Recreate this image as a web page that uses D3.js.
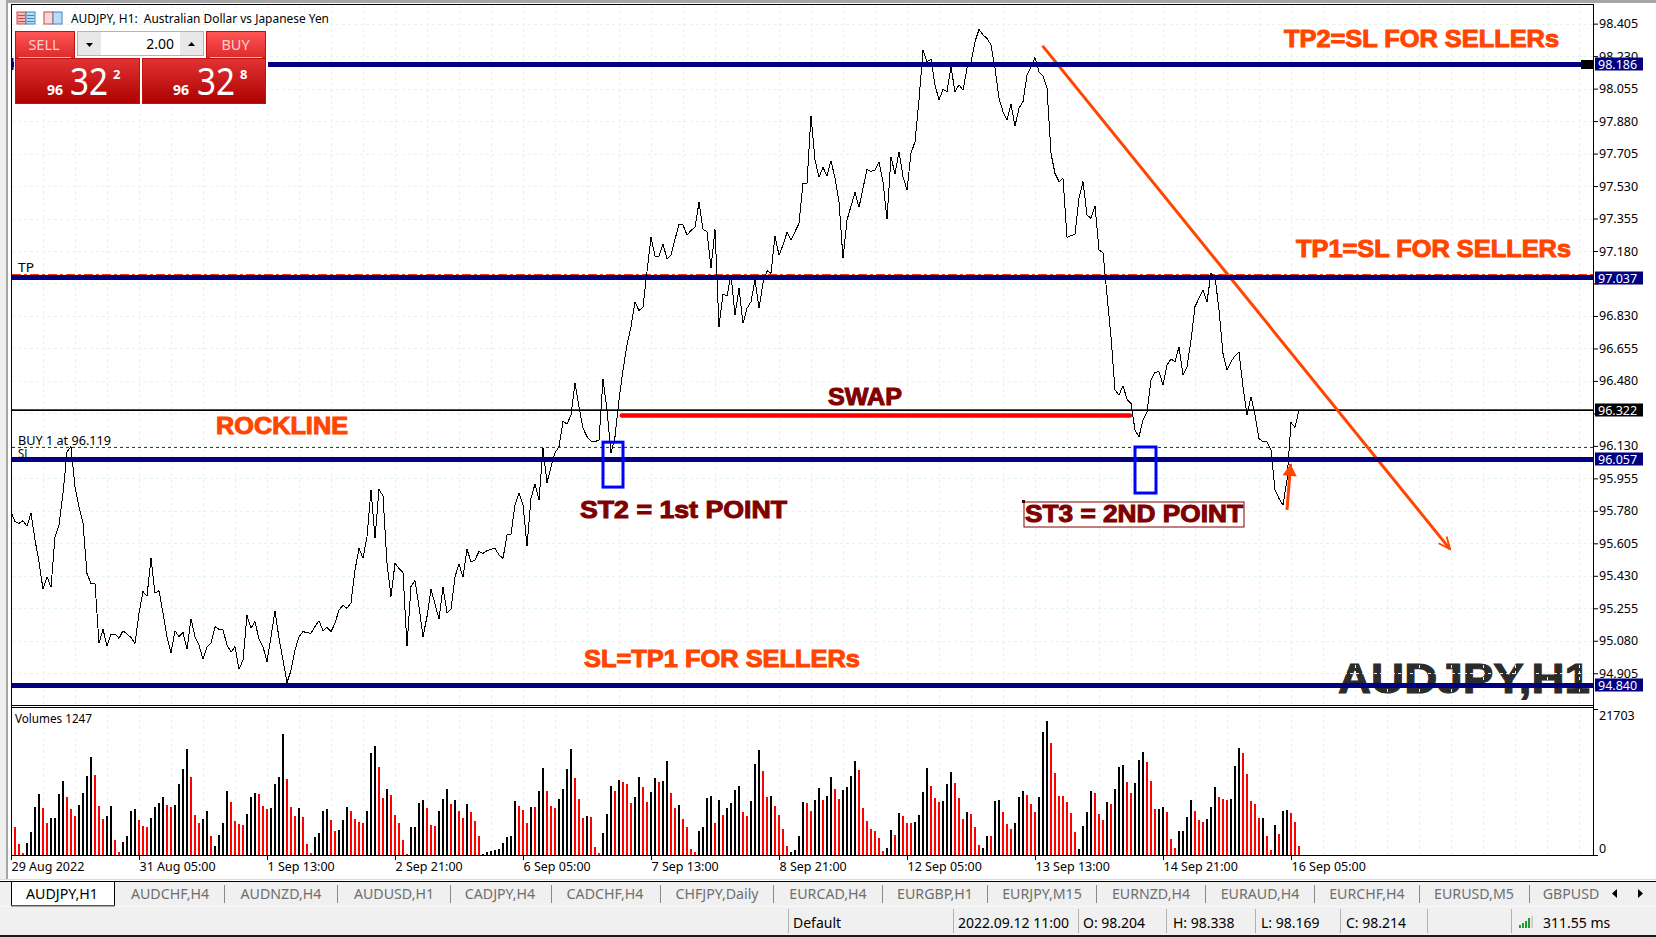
<!DOCTYPE html>
<html lang="en">
<head>
<meta charset="UTF-8" />
<title>AUDJPY,H1</title>
<script src="https://d3js.org/d3.v7.min.js"></script>
<style>
  html, body { margin: 0; padding: 0; background: #fff; overflow: hidden; }
  svg { display: block; }
  text { font-family: "Noto Sans", sans-serif; }
  .axis text { font-size: 12.5px; fill: #000; }
  .axis line { stroke: #000; }
  .axis path { display: none; }
  .mark { font-family: "Liberation Sans", Arial, sans-serif; font-weight: bold; }
</style>
</head>
<body>
<svg id="chart" width="1656" height="937"></svg>
<script>
// close of every H1 bar
const closes = [
  95.774,95.722,95.713,95.727,95.698,95.767,95.623,95.506,95.357,95.425,95.368,95.641,95.704,95.874,96.097,96.126,
  95.910,95.803,95.713,95.443,95.389,95.389,95.066,95.142,95.052,95.116,95.116,95.093,95.134,95.116,95.098,95.066,
  95.228,95.345,95.321,95.524,95.336,95.350,95.228,95.102,95.016,95.134,95.102,95.125,95.034,95.199,95.102,95.057,
  94.980,95.048,95.066,95.156,95.142,95.138,95.057,95.019,95.048,94.926,94.976,95.217,95.147,95.183,95.088,95.048,
  94.967,95.102,95.242,95.093,94.976,94.854,94.920,95.030,95.102,95.129,95.124,95.120,95.156,95.188,95.134,95.152,
  95.129,95.174,95.246,95.271,95.255,95.285,95.461,95.578,95.524,95.641,95.892,95.632,95.896,95.860,95.497,95.318,
  95.497,95.470,95.447,95.052,95.372,95.404,95.264,95.102,95.210,95.357,95.278,95.196,95.368,95.231,95.249,95.425,
  95.494,95.422,95.573,95.506,95.515,95.562,95.551,95.565,95.573,95.578,95.542,95.524,95.650,95.655,95.812,95.874,
  95.812,95.592,95.847,95.925,95.838,96.117,95.932,96.018,96.093,96.126,96.261,96.248,96.296,96.467,96.341,96.225,
  96.180,96.155,96.153,96.162,96.489,96.323,96.090,96.180,96.377,96.539,96.674,96.772,96.907,96.859,96.877,97.069,
  97.254,97.153,97.153,97.216,97.139,97.157,97.243,97.324,97.320,97.266,97.290,97.308,97.442,97.297,97.284,97.087,
  97.297,96.772,96.948,96.938,97.051,96.835,96.979,96.790,96.871,96.907,97.024,96.871,97.006,97.074,97.060,97.261,
  97.157,97.212,97.281,97.239,97.284,97.329,97.545,97.545,97.909,97.670,97.577,97.631,97.584,97.667,97.572,97.446,
  97.140,97.347,97.422,97.496,97.415,97.518,97.620,97.608,97.617,97.658,97.554,97.351,97.688,97.595,97.715,97.581,
  97.509,97.706,97.769,97.994,98.263,98.200,98.213,98.075,97.994,98.051,98.039,98.170,98.039,98.075,98.047,98.164,
  98.200,98.308,98.374,98.344,98.326,98.290,98.164,98.003,97.931,97.886,97.970,97.854,97.949,97.985,98.128,98.173,
  98.222,98.146,98.123,98.057,97.706,97.598,97.554,97.571,97.254,97.263,97.270,97.464,97.554,97.374,97.356,97.422,
  97.185,97.171,96.943,96.718,96.431,96.404,96.454,96.381,96.359,96.215,96.179,96.269,96.314,96.485,96.526,96.530,
  96.458,96.565,96.598,96.583,96.664,96.512,96.557,96.700,96.880,96.925,96.970,96.907,97.059,97.041,96.862,96.628,
  96.539,96.583,96.616,96.634,96.449,96.296,96.395,96.296,96.170,96.152,96.152,96.108,95.892,95.847,95.811,95.946,
  96.255,96.230,96.322
];

// tick volume of every bar, negative when the bar is drawn in the down colour
const volumes = [
  0,-4176,-1635,-350,1783,3434,7146,9077,-7000,-4770,5513,5513,9077,11007,-8631,-6849,-5810,7443,9225,11750,14571,
  -11898,-7295,-5364,5810,7295,-2229,-446,1932,2840,6552,6849,-5216,-4325,-4176,5513,7146,7740,8631,-7443,-7146,
  7443,10562,12790,15760,-11601,-5958,-4770,5364,6552,-2840,1337,2987,4770,9522,-7889,-5067,-4622,-4473,6107,8631,
  9225,-9077,-7295,-6849,7000,10562,11601,17987,-11304,-7146,-5810,7000,-5661,-1635,-300,2691,3285,6552,6849,-5216,
  -3582,3731,5216,7146,-6552,-5364,-4918,-4770,6552,15165,16205,-13086,-8483,9819,-8928,-5958,-4770,-2229,-150,
  4176,4176,7691,8186,-7000,-4473,-4325,6552,8335,9819,-7592,8186,-6552,-5513,7592,-6404,-5067,-2840,150,446,594,
  743,892,1783,2691,2840,8037,-7295,-6701,-4770,7146,-7146,9522,12938,-9522,-7295,-7000,8335,9819,12790,15760,
  -11453,-8335,-5513,5810,-5661,-1189,-300,3285,6107,10265,-9522,11156,-10859,-10562,-7740,8631,11601,-10116,-7889,
  9374,11453,-10859,11007,13978,-9225,-7000,7443,-5364,-4176,-892,-446,3582,4176,8483,8780,-4770,8186,-5958,7000,
  7740,9671,10265,-6404,-5810,8037,13532,15611,-12492,-8631,8780,-7295,-5958,-3879,-1337,446,743,2840,7889,-7740,
  -6552,8186,9968,-8186,8780,11601,-9819,-8335,9671,10116,11750,13978,-12641,-7000,-5067,-3879,-3582,-2543,-600,
  1000,3731,-2987,6256,-5810,-4770,-4770,4918,5958,9374,12938,-10265,-8483,-7889,8037,10562,12344,-10710,-8483,
  -5364,6404,-6107,-4176,-1500,1000,2840,-2840,8037,8186,-6404,-4622,-3879,4770,8631,9522,-8928,-7592,-6404,8631,
  18284,19917,-16650,-12196,-8780,-8780,-7889,-6256,-3434,900,4325,6404,9522,-9225,-6107,-5216,7889,-7592,9819,
  13086,13384,-10859,-9225,10710,14126,15314,-13829,-11007,-6849,6849,7146,-6404,-2396,-1000,3582,3582,5661,8186,
  -6552,-5216,-4918,5364,7146,10116,-8631,-8335,-8186,8335,13235,15908,-15165,-12047,-8037,-7592,-5513,5545,-2873,
  -793,4507,-3170,6588,6736,-6290,-4953,-1387
];

const priceTicks = [98.405,98.230,98.055,97.880,97.705,97.530,97.355,97.180,97.005,96.830,96.655,96.480,96.305,96.130,95.955,95.780,95.605,95.430,95.255,95.080,94.905];
const hiddenPriceLabels = [97.005, 96.305];
const timeTicks = [0,32,64,96,128,160,192,224,256,288,320];
const timeLabels = ["29 Aug 2022","31 Aug 05:00","1 Sep 13:00","2 Sep 21:00","6 Sep 05:00","7 Sep 13:00","8 Sep 21:00","12 Sep 05:00","13 Sep 13:00","14 Sep 21:00","16 Sep 05:00"];
const volumeTicks = [0, 21703];
const levels = [98.186, 97.037, 96.057, 94.840];
const bid = 96.322, ask = 96.328, buyPrice = 96.119, tpPrice = 97.052;

const tabNames = ["AUDCHF,H4","AUDNZD,H4","AUDUSD,H1","CADJPY,H4","CADCHF,H4","CHFJPY,Daily","EURCAD,H4","EURGBP,H1","EURJPY,M15","EURNZD,H4","EURAUD,H4","EURCHF,H4","EURUSD,M5","GBPUSD"];
const tabCentres = [170,281,394,500,605,717,828,935,1042,1151,1260,1367,1474,1571];
const tabSeps = [224,337,450,551,660,773,882,987,1096,1205,1314,1419,1529];
const statusSeps = [788,953,1078,1166,1255,1340,1427,1511];

const svg = d3.select("#chart");
const defs = svg.append("defs");

function gradient(id, top, bottom) {
  const g = defs.append("linearGradient").attr("id", id).attr("x1", 0).attr("y1", 0).attr("x2", 0).attr("y2", 1);
  g.append("stop").attr("offset", "0%").attr("stop-color", top);
  g.append("stop").attr("offset", "100%").attr("stop-color", bottom);
}
gradient("btn", "#ff5555", "#dc2a2a");
gradient("quote", "#e23434", "#ad0000");

const x = d3.scaleLinear().domain([0, 320]).range([11, 1291]);
const y = d3.scaleLinear().domain([94.84, 98.186]).range([685.3, 64.3]);
const v = d3.scaleLinear().domain([0, 21703]).range([855, 709]);
const right = 1593;

function text(g, str, tx, ty, size, opts = {}) {
  const t = g.append("text").attr("x", tx).attr("y", ty).attr("font-size", size)
    .attr("fill", opts.fill || "#000").text(str);
  if (opts.anchor) t.attr("text-anchor", opts.anchor);
  if (opts.cls) t.attr("class", opts.cls);
  if (opts.weight) t.attr("font-weight", opts.weight);
  if (opts.len) t.attr("textLength", opts.len).attr("lengthAdjust", "spacingAndGlyphs");
  return t;
}

// window edges
svg.append("rect").attr("x", 0).attr("y", 0).attr("width", 1656).attr("height", 3).attr("fill", "#a6a6a6");
svg.append("rect").attr("x", 0).attr("y", 0).attr("width", 6).attr("height", 880).attr("fill", "#efefef");
svg.append("rect").attr("x", 6).attr("y", 0).attr("width", 2).attr("height", 880).attr("fill", "#a6a6a6");

// chart watermark sits under the grid
const marks = svg.append("g");
text(marks, "AUDJPY,H1", 1338, 693, 42, { cls: "mark", fill: "#2b2b2b", len: 252 })
  .attr("stroke", "#2b2b2b").attr("stroke-width", 1);

// grid
const grid = svg.append("g").attr("stroke", "#e6f6e6").attr("stroke-dasharray", "3,3").attr("shape-rendering", "crispEdges");
grid.selectAll(".h").data(priceTicks).join("line").attr("class", "h")
  .attr("x1", 12).attr("x2", right).attr("y1", d => Math.round(y(d)) + 0.5).attr("y2", d => Math.round(y(d)) + 0.5);
grid.selectAll(".v").data(d3.range(8, 400, 8)).join("line").attr("class", "v")
  .attr("x1", d => x(d) + 0.5).attr("x2", d => x(d) + 0.5).attr("y1", 5).attr("y2", 705);
grid.selectAll(".w").data(d3.range(8, 400, 8)).join("line").attr("class", "w")
  .attr("x1", d => x(d) + 0.5).attr("x2", d => x(d) + 0.5).attr("y1", 708).attr("y2", 855);

// bid / ask / order lines
const crisp = svg.append("g").attr("shape-rendering", "crispEdges");
crisp.append("line").attr("x1", 12).attr("x2", right).attr("y1", y(ask)).attr("y2", y(ask)).attr("stroke", "#ff0000");
crisp.append("line").attr("x1", 12).attr("x2", right).attr("y1", y(bid)).attr("y2", y(bid)).attr("stroke", "#000");
crisp.append("line").attr("x1", 12).attr("x2", right).attr("y1", y(buyPrice)).attr("y2", y(buyPrice))
  .attr("stroke", "#006400").attr("stroke-dasharray", "3,3");
crisp.append("line").attr("x1", 12).attr("x2", right).attr("y1", y(tpPrice)).attr("y2", y(tpPrice))
  .attr("stroke", "#ff3000").attr("stroke-width", 2).attr("stroke-dasharray", "9,3,3,3");

// price line
const priceLine = d3.line().x((d, i) => x(i)).y(d => y(d));
svg.append("path").datum(closes).attr("d", priceLine).attr("fill", "none").attr("stroke", "#000")
  .attr("stroke-width", 1).attr("shape-rendering", "crispEdges");

// hand drawn trend line and arrow
const trend = [[257.9, 98.285], [359.75, 95.574]];
const pt = p => [x(p[0]), y(p[1])];
const orange = "#ff4500";
svg.append("path").attr("d", d3.line()(trend.map(pt))).attr("stroke", orange).attr("stroke-width", 3).attr("fill", "none");
function barbs(p0, p1, len, spread) {
  const [a, b] = [pt(p0), pt(p1)];
  const ang = Math.atan2(b[1] - a[1], b[0] - a[0]);
  const at = s => [b[0] - len * Math.cos(ang + s), b[1] - len * Math.sin(ang + s)];
  return [at(spread), b, at(-spread)];
}
svg.append("path").attr("d", d3.line()(barbs(trend[0], trend[1], 13, 0.42))).attr("stroke", orange)
  .attr("stroke-width", 1.8).attr("fill", "none");

// horizontal levels
svg.append("g").selectAll("line").data(levels).join("line")
  .attr("x1", 12).attr("x2", right).attr("y1", d => y(d)).attr("y2", d => y(d))
  .attr("stroke", "#000080").attr("stroke-width", 4.5).attr("shape-rendering", "crispEdges");

// small up arrow at the last swing
const upArrow = [[319, 95.785], [319.9, 96.033]];
svg.append("path").attr("d", d3.line()(upArrow.map(pt))).attr("stroke", orange).attr("stroke-width", 3).attr("fill", "none");
svg.append("path").attr("d", d3.line()(barbs(upArrow[0], upArrow[1], 14, 0.54)) + "Z").attr("fill", orange);

// swap line and boxes
const swap = [[152.7, 96.294], [279.75, 96.294]];
svg.append("path").attr("d", d3.line()(swap.map(pt))).attr("stroke", "#ff0000").attr("stroke-width", 4.4)
  .attr("stroke-linecap", "round").attr("fill", "none");
const boxes = [[148, 153, 96.150, 95.908], [281, 286.25, 96.124, 95.876]];
svg.append("g").selectAll("rect").data(boxes).join("rect")
  .attr("x", d => x(d[0])).attr("width", d => x(d[1]) - x(d[0]))
  .attr("y", d => y(d[2])).attr("height", d => y(d[3]) - y(d[2]))
  .attr("fill", "none").attr("stroke", "#0000ff").attr("stroke-width", 3);

// orange and dark red notes
const notes = svg.append("g");
const note = (s, nx, ny, size, fill, len) => text(notes, s, nx, ny, size, { cls: "mark", fill, len }).attr("stroke", fill).attr("stroke-width", 1);
note("TP2=SL FOR SELLERs", 1284, 47, 24, orange, 275);
note("TP1=SL FOR SELLERs", 1296, 257, 24, orange, 275);
note("ROCKLINE", 216, 434, 24, orange, 132);
note("SL=TP1 FOR SELLERs", 584, 667, 24, orange, 276);
note("SWAP", 828, 405, 24, "#800000", 74);
note("ST2 = 1st POINT", 580, 518, 24, "#800000", 207);
note("ST3 = 2ND POINT", 1025, 522, 24, "#800000", 218);
notes.append("rect").attr("x", 1024).attr("y", 502).attr("width", 220).attr("height", 25)
  .attr("fill", "none").attr("stroke", "#800000");
notes.append("rect").attr("x", 1022).attr("y", 500).attr("width", 3).attr("height", 3).attr("fill", "#400000");

// order labels
const labels = svg.append("g");
text(labels, "TP", 18, 272, 12, { len: 16 });
text(labels, "BUY 1 at 96.119", 18, 445, 12, { len: 93 });
text(labels, "SL", 18, 458, 12, { len: 12 });

// volume bars
svg.append("g").attr("shape-rendering", "crispEdges").selectAll("rect").data(volumes).join("rect")
  .attr("x", (d, i) => x(i) - 1).attr("width", 2)
  .attr("y", d => v(Math.abs(d))).attr("height", d => v(0) - v(Math.abs(d)))
  .attr("fill", d => d < 0 ? "#ff0000" : "#000");
text(labels, "Volumes 1247", 15, 723, 12.5, { len: 77 });

// axes
const priceAxis = d3.axisRight(y).tickValues(priceTicks).tickSize(5).tickPadding(1)
  .tickFormat(d => hiddenPriceLabels.includes(d) ? "" : d.toFixed(3));
svg.append("g").attr("class", "axis").attr("transform", `translate(${right},0)`).call(priceAxis);

const volumeAxis = d3.axisRight(v).tickValues(volumeTicks).tickSize(5).tickPadding(1).tickFormat(d3.format("d"));
const volG = svg.append("g").attr("class", "axis").attr("transform", `translate(${right},0)`).call(volumeAxis);
volG.selectAll("text").attr("dy", d => d === 0 ? "-0.2em" : "0.8em");

const timeAxis = d3.axisBottom(x).tickValues(timeTicks).tickSize(5).tickPadding(2).tickFormat((d, i) => timeLabels[i]);
const timeG = svg.append("g").attr("class", "axis").attr("transform", "translate(0,855)").call(timeAxis);
timeG.selectAll("text").attr("text-anchor", "start").attr("x", 0);

// price flags
const flags = svg.append("g");
const flag = (p, fill) => {
  flags.append("rect").attr("x", 1595).attr("y", Math.round(y(p)) - 6.5).attr("width", 48).attr("height", 13).attr("fill", fill);
  text(flags, p.toFixed(3), 1598, Math.round(y(p)) + 4.5, 12.5, { fill: "#fff" });
};
levels.forEach(p => flag(p, "#000080"));
flag(bid, "#000");
flags.append("rect").attr("x", 1581).attr("y", 60).attr("width", 12).attr("height", 9).attr("fill", "#000");

// panel borders
const frame = svg.append("g").attr("stroke", "#000").attr("fill", "none").attr("shape-rendering", "crispEdges");
frame.append("path").attr("d", `M11.5 4.5H${right + 0.5}V855.5H11.5Z`);
frame.append("path").attr("d", `M11.5 705.5H${right + 0.5}M11.5 707.5H${right + 0.5}`);

// chart title icons
const icon = (ix, col1, col2, strokes) => {
  svg.append("rect").attr("x", ix).attr("y", 12).attr("width", 9).attr("height", 12).attr("fill", col1).attr("stroke", "#d04a4a");
  svg.append("rect").attr("x", ix + 9).attr("y", 12).attr("width", 9).attr("height", 12).attr("fill", col2).attr("stroke", "#3a86c8");
  strokes.forEach(ly => {
    svg.append("rect").attr("x", ix + 1).attr("y", ly).attr("width", 7).attr("height", 1).attr("fill", "#d04a4a");
    svg.append("rect").attr("x", ix + 10).attr("y", ly).attr("width", 7).attr("height", 1).attr("fill", "#3a86c8");
  });
};
icon(17, "#f6b7b7", "#bcdcf4", [15, 18, 21]);
icon(44, "#fbd6d6", "#bcdcf4", []);
text(svg, "AUDJPY, H1:  Australian Dollar vs Japanese Yen", 71, 23, 12.5, { len: 258 }).attr("xml:space", "preserve");

// one click trading panel
const panel = svg.append("g");
panel.append("rect").attr("x", 14).attr("y", 28).attr("width", 254).attr("height", 78).attr("fill", "#fff");
panel.append("rect").attr("x", 12).attr("y", 58).attr("width", 1.5).attr("height", 12).attr("fill", "#000080");
const redBox = (bx, by, w, h, fill) => panel.append("rect").attr("x", bx + 0.5).attr("y", by + 0.5).attr("width", w).attr("height", h)
  .attr("fill", fill).attr("stroke", "#c01010");
redBox(15, 31, 59, 27, "url(#btn)");
redBox(206, 31, 59, 27, "url(#btn)");
redBox(15, 58, 124, 45, "url(#quote)");
redBox(142, 58, 123, 45, "url(#quote)");
panel.append("rect").attr("x", 19).attr("y", 57).attr("width", 52).attr("height", 1).attr("fill", "#ffb0b0");
panel.append("rect").attr("x", 210).attr("y", 57).attr("width", 52).attr("height", 1).attr("fill", "#ffb0b0");
panel.append("rect").attr("x", 77.5).attr("y", 31.5).attr("width", 126).attr("height", 24).attr("fill", "#fff").attr("stroke", "#b4b4b4");
panel.append("rect").attr("x", 78).attr("y", 32).attr("width", 23).attr("height", 23).attr("fill", "#e8e8e8");
panel.append("rect").attr("x", 180).attr("y", 32).attr("width", 23).attr("height", 23).attr("fill", "#e8e8e8");
panel.append("path").attr("d", "M86 43h7l-3.5 4z").attr("fill", "#000");
panel.append("path").attr("d", "M188 46h7l-3.5 -4z").attr("fill", "#000");
text(panel, "2.00", 174, 49, 14, { anchor: "end" });
text(panel, "SELL", 44, 50, 14.5, { anchor: "middle", fill: "#ffd0d0" });
text(panel, "BUY", 235.5, 50, 14.5, { anchor: "middle", fill: "#ffd0d0" });
const quote = (x96, x32, xp, last) => {
  text(panel, "96", x96, 95, 14, { fill: "#fff", weight: "bold" });
  text(panel, "32", x32, 95, 38, { fill: "#fff", len: 38 });
  text(panel, last, xp, 79, 13, { fill: "#fff", weight: "bold" });
};
quote(47, 70, 113, "2");
quote(173, 197, 240, "8");

// tab strip and status bar
const chrome = svg.append("g");
chrome.append("rect").attr("x", 0).attr("y", 879).attr("width", 1656).attr("height", 1).attr("fill", "#dcdcdc");
chrome.append("rect").attr("x", 0).attr("y", 881).attr("width", 1656).attr("height", 54).attr("fill", "#f0f0f0");
chrome.append("rect").attr("x", 0).attr("y", 881).attr("width", 1656).attr("height", 1).attr("fill", "#000");
chrome.append("rect").attr("x", 0).attr("y", 935).attr("width", 1656).attr("height", 2).attr("fill", "#1a1a1a");
chrome.append("rect").attr("x", 0).attr("y", 906).attr("width", 1656).attr("height", 1).attr("fill", "#fafafa");
chrome.append("path").attr("d", "M11.5 905.5V881.5H114.5V905.5").attr("fill", "#fff").attr("stroke", "#000");
chrome.append("rect").attr("x", 11).attr("y", 905).attr("width", 104).attr("height", 1.5).attr("fill", "#555");
text(chrome, "AUDJPY,H1", 62, 899, 14, { anchor: "middle", len: 72 });
chrome.selectAll(".tab").data(tabNames).join("text").attr("class", "tab")
  .attr("x", (d, i) => tabCentres[i]).attr("y", 899).attr("text-anchor", "middle")
  .attr("font-size", 14.2).attr("fill", "#6e6e6e").text(d => d);
chrome.selectAll(".tabsep").data(tabSeps).join("rect").attr("class", "tabsep")
  .attr("x", d => d).attr("y", 885).attr("width", 1).attr("height", 18).attr("fill", "#8a8a8a");
chrome.append("path").attr("d", "M1617 889v9l-5 -4.5z M1638 889v9l5 -4.5z").attr("fill", "#000");
chrome.selectAll(".stsep").data(statusSeps).join("rect").attr("class", "stsep")
  .attr("x", d => d).attr("y", 909).attr("width", 1).attr("height", 24).attr("fill", "#b0b0b0");
const statusItems = [["Default", 793], ["2022.09.12 11:00", 958], ["O: 98.204", 1083], ["H: 98.338", 1173], ["L: 98.169", 1261], ["C: 98.214", 1346], ["311.55 ms", 1543]];
statusItems.forEach(([s, sx]) => text(chrome, s, sx, 928, 14));
chrome.selectAll(".sig").data([3, 5, 7, 10, 12]).join("rect").attr("class", "sig")
  .attr("x", (d, i) => 1519 + i * 3).attr("width", 2).attr("y", d => 928 - d).attr("height", d => d)
  .attr("fill", (d, i) => i === 4 ? "#cfcfcf" : "#1f9e2c");
</script>
</body>
</html>
